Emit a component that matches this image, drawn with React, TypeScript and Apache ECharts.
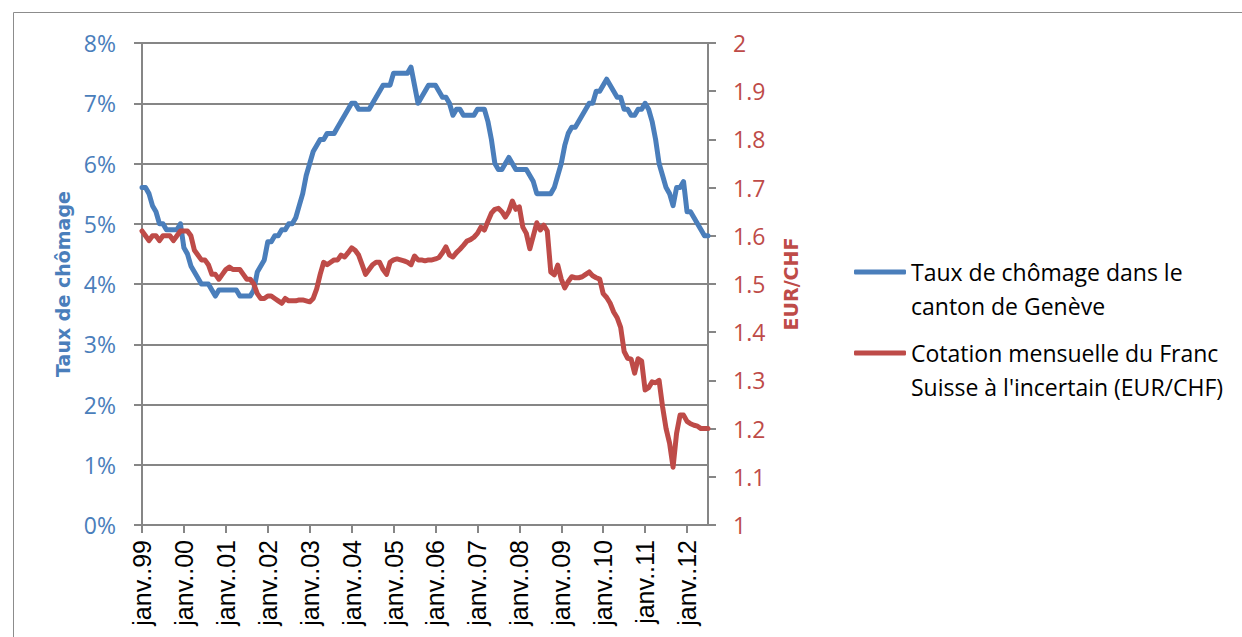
import React, { useEffect, useRef } from "react";
import * as echarts from "echarts";

const monthNames = ["janv.", "févr.", "mars", "avr.", "mai", "juin", "juil.", "août", "sept.", "oct.", "nov.", "déc."];
const years = ["99", "00", "01", "02", "03", "04", "05", "06", "07", "08", "09", "10", "11", "12"];
const monthCount = 163;
const categories: string[] = [];
for (let i = 0; i < monthCount; i++) {
  categories.push(monthNames[i % 12] + "." + years[Math.floor(i / 12)]);
}

const seriesNames = [
  "Taux de chômage dans le\ncanton de Genève",
  "Cotation mensuelle du Franc\nSuisse à l'incertain (EUR/CHF)",
];

const unemployment = [
  5.6, 5.6, 5.5, 5.3, 5.2, 5.0, 5.0, 4.9, 4.9, 4.9, 4.9, 5.0,
  4.6, 4.5, 4.3, 4.2, 4.1, 4.0, 4.0, 4.0, 3.9, 3.8, 3.9, 3.9,
  3.9, 3.9, 3.9, 3.9, 3.8, 3.8, 3.8, 3.8, 3.9, 4.2, 4.3, 4.4,
  4.7, 4.7, 4.8, 4.8, 4.9, 4.9, 5.0, 5.0, 5.1, 5.3, 5.5, 5.8,
  6.0, 6.2, 6.3, 6.4, 6.4, 6.5, 6.5, 6.5, 6.6, 6.7, 6.8, 6.9,
  7.0, 7.0, 6.9, 6.9, 6.9, 6.9, 7.0, 7.1, 7.2, 7.3, 7.3, 7.3,
  7.5, 7.5, 7.5, 7.5, 7.5, 7.6, 7.3, 7.0, 7.1, 7.2, 7.3, 7.3,
  7.3, 7.2, 7.1, 7.1, 7.0, 6.8, 6.9, 6.9, 6.8, 6.8, 6.8, 6.8,
  6.9, 6.9, 6.9, 6.7, 6.4, 6.0, 5.9, 5.9, 6.0, 6.1, 6.0, 5.9,
  5.9, 5.9, 5.9, 5.8, 5.7, 5.5, 5.5, 5.5, 5.5, 5.5, 5.6, 5.8,
  6.0, 6.3, 6.5, 6.6, 6.6, 6.7, 6.8, 6.9, 7.0, 7.0, 7.2, 7.2,
  7.3, 7.4, 7.3, 7.2, 7.1, 7.1, 6.9, 6.9, 6.8, 6.8, 6.9, 6.9,
  7.0, 6.9, 6.7, 6.4, 6.0, 5.8, 5.6, 5.5, 5.3, 5.6, 5.6, 5.7,
  5.2, 5.2, 5.1, 5.0, 4.9, 4.8, 4.8,
];

const eurChf = [
  1.61, 1.60, 1.59, 1.60, 1.60, 1.59, 1.60, 1.60, 1.60, 1.59, 1.60, 1.61,
  1.61, 1.61, 1.60, 1.57, 1.56, 1.55, 1.55, 1.54, 1.52, 1.52, 1.51, 1.52,
  1.53, 1.535, 1.53, 1.53, 1.53, 1.52, 1.51, 1.51, 1.50, 1.48, 1.47, 1.47,
  1.475, 1.475, 1.47, 1.465, 1.46, 1.47, 1.465, 1.465, 1.465, 1.467, 1.467, 1.465,
  1.463, 1.47, 1.49, 1.52, 1.545, 1.54, 1.545, 1.55, 1.55, 1.56, 1.556, 1.565,
  1.575, 1.57, 1.56, 1.54, 1.52, 1.53, 1.54, 1.545, 1.545, 1.53, 1.52, 1.545,
  1.55, 1.552, 1.55, 1.548, 1.545, 1.54, 1.558, 1.55, 1.55, 1.548, 1.55, 1.55,
  1.552, 1.555, 1.565, 1.577, 1.56, 1.556, 1.565, 1.572, 1.58, 1.589, 1.592, 1.597,
  1.605, 1.618, 1.612, 1.63, 1.647, 1.655, 1.657, 1.65, 1.639, 1.651, 1.672, 1.655,
  1.66, 1.618, 1.605, 1.573, 1.60, 1.627, 1.612, 1.622, 1.61, 1.525, 1.519, 1.539,
  1.51, 1.492, 1.505, 1.515, 1.513, 1.513, 1.515, 1.52, 1.525, 1.517, 1.513, 1.51,
  1.48, 1.472, 1.46, 1.442, 1.43, 1.41, 1.36, 1.346, 1.344, 1.315, 1.345, 1.34,
  1.28, 1.285, 1.297, 1.295, 1.30, 1.245, 1.20, 1.17, 1.12, 1.19, 1.228, 1.228,
  1.215, 1.21, 1.207, 1.205, 1.20, 1.20, 1.20,
];

const BLUE = "#4A7EBB";
const RED = "#BE4B48";
const GRID = "#868686";
const LABEL_FONT = "'Open Sans', sans-serif";

export default function App() {
  const ref = useRef<HTMLDivElement>(null);

  useEffect(() => {
    if (!ref.current) return;
    const chart = echarts.init(ref.current, undefined, { renderer: "svg" });
    const janOnly = (idx: number) => idx % 12 === 0;
    const legendText = {
      fontFamily: LABEL_FONT,
      fontSize: 23,
      lineHeight: 34,
      color: "#000",
    };
    const legendCommon = {
      left: 854,
      padding: 0,
      itemWidth: 52,
      itemHeight: 5,
      icon: "roundRect",
      selectedMode: false,
      formatter: (name: string) => "\n" + name,
      textStyle: legendText,
    };
    chart.setOption({
      animation: false,
      backgroundColor: "#fff",
      grid: { left: 142, top: 43, width: 566, height: 482, containLabel: false },
      legend: [
        { ...legendCommon, data: [seriesNames[0]], top: 221 },
        { ...legendCommon, data: [seriesNames[1]], top: 302 },
      ],
      xAxis: {
        type: "category",
        data: categories,
        boundaryGap: false,
        axisLine: { show: true, lineStyle: { color: GRID, width: 2 } },
        axisTick: { show: true, interval: janOnly, length: 8, lineStyle: { color: GRID, width: 2 } },
        axisLabel: {
          interval: janOnly,
          rotate: 90,
          margin: 15,
          fontFamily: "'Liberation Sans', Arial, sans-serif",
          fontSize: 25,
          color: "#000",
        },
        splitLine: { show: false },
      },
      yAxis: [
        {
          type: "value",
          min: 0,
          max: 8,
          interval: 1,
          position: "left",
          axisLine: { show: true, lineStyle: { color: GRID, width: 2 } },
          axisTick: { show: true, length: 8, lineStyle: { color: GRID, width: 2 } },
          axisLabel: {
            formatter: "{value}%",
            margin: 26,
            fontFamily: LABEL_FONT,
            fontSize: 23,
            color: BLUE,
          },
          splitLine: { show: true, lineStyle: { color: GRID, width: 2 } },
        },
        {
          type: "value",
          min: 1,
          max: 2,
          interval: 0.1,
          position: "right",
          axisLine: { show: true, lineStyle: { color: GRID, width: 2 } },
          axisTick: { show: true, length: 8, lineStyle: { color: GRID, width: 2 } },
          axisLabel: {
            formatter: (v: number) => String(Math.round(v * 10) / 10),
            margin: 25,
            fontFamily: LABEL_FONT,
            fontSize: 23,
            color: RED,
          },
          splitLine: { show: false },
        },
      ],
      graphic: [
        {
          type: "rect",
          shape: { x: 13.5, y: 12.5, width: 1400, height: 800 },
          style: { fill: "none", stroke: "#8c8c8c", lineWidth: 1 },
          silent: true,
        },
        {
          type: "text",
          x: 63,
          y: 284,
          rotation: Math.PI / 2,
          style: {
            text: "Taux de chômage",
            fill: BLUE,
            font: "bold 19px 'DejaVu Sans', Verdana, sans-serif",
            align: "center",
            verticalAlign: "middle",
          },
        },
        {
          type: "text",
          x: 791,
          y: 284,
          rotation: Math.PI / 2,
          style: {
            text: "EUR/CHF",
            fill: RED,
            font: "bold 19px 'DejaVu Sans', Verdana, sans-serif",
            align: "center",
            verticalAlign: "middle",
          },
        },
      ],
      series: [
        {
          name: seriesNames[0],
          type: "line",
          yAxisIndex: 0,
          data: unemployment,
          showSymbol: false,
          symbol: "none",
          lineStyle: { color: BLUE, width: 5, cap: "round", join: "round" },
          itemStyle: { color: BLUE },
        },
        {
          name: seriesNames[1],
          type: "line",
          yAxisIndex: 1,
          data: eurChf,
          showSymbol: false,
          symbol: "none",
          lineStyle: { color: RED, width: 5, cap: "round", join: "round" },
          itemStyle: { color: RED },
        },
      ],
    });
    return () => chart.dispose();
  }, []);

  return (
    <div
      ref={ref}
      style={{ position: "fixed", left: 0, top: 0, width: 1242, height: 637, background: "#fff" }}
    />
  );
}
